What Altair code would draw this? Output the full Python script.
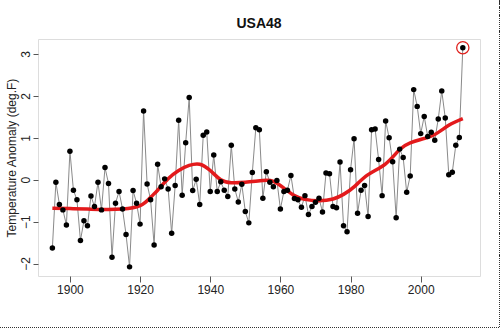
import altair as alt
import pandas as pd

years = list(range(1895, 2013))
anomaly = [
    -1.63, -0.06, -0.59, -0.72, -1.08, 0.68, -0.25, -0.48, -1.45, -0.98,   # 1895-1904
    -1.10, -0.39, -0.64, -0.06, -0.72, 0.29, -0.09, -1.85, -0.56, -0.28,   # 1905-1914
    -0.70, -1.31, -2.08, -0.26, -0.56, -1.06, 1.64, -0.10, -0.48, -1.56,   # 1915-1924
    0.37, -0.17, 0.02, -0.22, -1.28, -0.14, 1.42, -0.37, 0.88, 1.96,       # 1925-1934
    -0.26, 0.01, -0.59, 1.06, 1.14, -0.28, 0.59, -0.28, -0.05, -0.25,      # 1935-1944
    -0.40, 0.82, -0.22, -0.53, -0.11, -0.76, -1.03, 0.17, 1.24, 1.19,      # 1945-1954
    -0.44, 0.19, -0.06, -0.17, -0.02, -0.70, -0.28, -0.25, 0.10, -0.45,    # 1955-1964
    -0.48, -0.66, -0.38, -0.83, -0.64, -0.54, -0.44, -0.77, 0.16, 0.14,    # 1965-1974
    -0.64, -0.67, 0.42, -1.10, -1.24, 0.24, 0.98, -0.80, -0.25, -0.14,     # 1975-1984
    -0.88, 1.19, 1.21, 0.48, -0.38, 1.40, 1.00, 0.43, -0.91, 0.73,         # 1985-1994
    0.53, -0.30, 0.09, 2.15, 1.75, 1.10, 1.51, 1.03, 1.13, 0.94,           # 1995-2004
    1.45, 2.12, 1.47, 0.12, 0.18, 0.82, 1.01, 3.15,                        # 2005-2012
]

smooth_years = [1895, 1900, 1905, 1910, 1915, 1920, 1923, 1925, 1928, 1931,
                1934, 1937, 1940, 1943, 1946, 1950, 1955, 1958, 1961, 1964,
                1967, 1971, 1975, 1978, 1981, 1985, 1990, 1994, 1997, 2000,
                2004, 2008, 2012]
smooth_vals = [-0.68, -0.69, -0.70, -0.71, -0.70, -0.62, -0.42, -0.25, 0.02, 0.22,
               0.34, 0.37, 0.22, 0.00, -0.07, -0.06, -0.02, -0.04, -0.20, -0.38,
               -0.47, -0.50, -0.46, -0.35, -0.17, 0.12, 0.38, 0.72, 0.88, 0.96,
               1.08, 1.30, 1.46]

x_ticks = [1900, 1920, 1940, 1960, 1980, 2000]
y_ticks = [-2, -1, 0, 1, 2, 3]
title_text = ["USA48"]

df = pd.DataFrame({"year": years, "anomaly": anomaly})
sm = pd.DataFrame({"year": smooth_years, "smooth": smooth_vals})
last = df[df["year"] == 2012]
tdf = pd.DataFrame({"t": title_text})

FONT = "Liberation Sans"
xs = alt.Scale(domain=[1890.9, 2016.9], nice=False, zero=False)
ys = alt.Scale(domain=[-2.298, 3.358], nice=False, zero=False)

xaxis = alt.Axis(values=x_ticks, title=None, grid=False, domain=False,
                 tickSize=6, tickColor="#555555", tickWidth=1,
                 labelFont=FONT, labelFontSize=12, labelColor="#222222",
                 labelPadding=2, format="d", labelFlush=False)
yaxis = alt.Axis(values=y_ticks, title="Temperature Anomaly (deg.F)", grid=False,
                 domain=False, tickSize=5, tickColor="#555555", tickWidth=1,
                 labelFont=FONT, labelFontSize=12, labelColor="#222222",
                 labelAngle=270, labelAlign="center", labelBaseline="bottom",
                 labelPadding=1, labelFlush=False,
                 titleFont=FONT, titleFontSize=12, titleFontWeight="normal",
                 titleColor="#222222", titlePadding=1)

base = alt.Chart(df)
line = base.mark_line(color="#8a8a8a", strokeWidth=1).encode(
    x=alt.X("year:Q", scale=xs, axis=xaxis),
    y=alt.Y("anomaly:Q", scale=ys, axis=yaxis),
)
pts = base.mark_circle(color="black", size=30, opacity=1).encode(
    x=alt.X("year:Q", scale=xs), y=alt.Y("anomaly:Q", scale=ys)
)
smooth = alt.Chart(sm).mark_line(color="#e31a1c", strokeWidth=3.5, interpolate="natural").encode(
    x=alt.X("year:Q", scale=xs), y=alt.Y("smooth:Q", scale=ys)
)
ring = alt.Chart(last).mark_point(shape="circle", filled=False, color="#e0201c",
                                  size=150, strokeWidth=1.3, opacity=1).encode(
    x=alt.X("year:Q", scale=xs), y=alt.Y("anomaly:Q", scale=ys)
)
title = alt.Chart(tdf).mark_text(font=FONT, fontSize=14, fontWeight="bold", color="#111111",
                                 align="center", baseline="alphabetic").encode(
    text="t:N", x=alt.value(221), y=alt.value(-11)
)
border_r = alt.Chart(df).mark_rule(color="#333333", strokeDash=[1, 1], strokeWidth=1).encode(
    x=alt.value(461.5), y=alt.value(-39), y2=alt.value(289)
)
border_b = alt.Chart(df).mark_rule(color="#333333", strokeDash=[1, 1], strokeWidth=1).encode(
    y=alt.value(288.5), x=alt.value(-38), x2=alt.value(462)
)

chart = alt.layer(line, smooth, pts, ring, title, border_r, border_b).properties(
    width=442, height=237,
    padding={"left": 38, "top": 39, "right": 22, "bottom": 53},
    autosize=alt.AutoSizeParams(type="none"),
).configure_view(stroke="#555555", strokeWidth=1).configure(background="white")

chart.save("out.html", embed_options={"renderer": "svg", "actions": False})
